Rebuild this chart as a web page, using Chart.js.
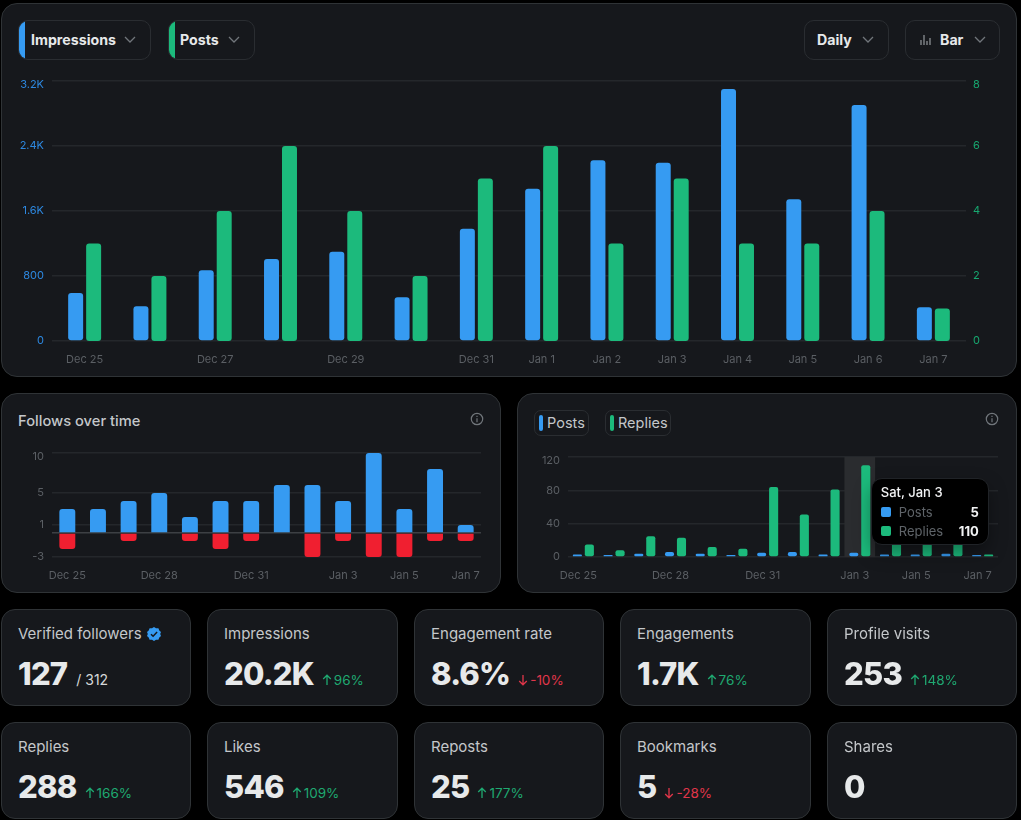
<!DOCTYPE html>
<html lang="en">
<head>
    <meta charset="UTF-8">
    <title>Account analytics</title>
    <script src="https://cdn.jsdelivr.net/npm/chart.js"></script>
    <style>
        html, body {
            margin: 0;
            width: 1021px;
            height: 820px;
            overflow: hidden;
            background: #000;
            font-family: Inter, "Noto Sans", sans-serif;
            color: #e7e9ea;
        }
        .card {
            position: absolute;
            box-sizing: border-box;
            background: #16181c;
            border: 1px solid #2f3336;
            border-radius: 16px;
        }
        canvas { position: absolute; }
        .pill {
            position: absolute;
            box-sizing: border-box;
            top: 20px;
            height: 40px;
            border: 1px solid #2a2d31;
            border-radius: 10px;
            overflow: hidden;
            font-size: 14.2px;
            font-weight: 700;
            line-height: 38px;
            white-space: nowrap;
        }
        .pill .stripe { position: absolute; left: 0; top: 0; bottom: 0; width: 6px; }
        .pill span { position: absolute; top: 0; }
        .pill svg { position: absolute; top: 14px; }
        .legend {
            position: absolute;
            box-sizing: border-box;
            top: 410px;
            height: 26px;
            border: 1px solid #2a2d31;
            border-radius: 7px;
            font-size: 14.5px;
            line-height: 24px;
            color: #c4c7ca;
        }
        .legend i { position: absolute; left: 4px; top: 4px; width: 4px; height: 16px; border-radius: 2px; }
        .legend span { position: absolute; left: 12px; }
        .title { position: absolute; left: 18px; top: 412px; font-size: 14.7px; font-weight: 500; color: #c4c7ca; }
        .info { position: absolute; top: 412px; }
        #kpis {
            position: absolute;
            left: 1px;
            top: 609px;
            display: grid;
            grid-template-columns: 190px 191px 190px 191px 190px;
            grid-auto-rows: 97px;
            gap: 16px;
        }
        .kpi {
            position: relative;
            box-sizing: border-box;
            background: #16181c;
            border: 1px solid #2f3336;
            border-radius: 14px;
        }
        .kpi .name { position: absolute; left: 16px; top: 14px; font-size: 15px; color: #c4c7ca; white-space: nowrap; }
        .kpi .row { position: absolute; left: 16px; top: 44px; white-space: nowrap; display: flex; align-items: baseline; }
        .kpi .value { font-size: 31px; font-weight: 800; letter-spacing: -0.8px; line-height: 40px; color: #e7e9ea; }
        .kpi .delta { font-size: 13.5px; margin-left: 8px; }
        .kpi .up { color: #1fa971; }
        .kpi .down { color: #e0364a; }
        .kpi .total { font-size: 14px; margin-left: 9px; color: #d6d8da; }
        .badge { vertical-align: -2px; margin-left: 5px; }
        #tip {
            position: absolute;
            box-sizing: border-box;
            top: 478px;
            width: 118px;
            height: 67px;
            background: #000;
            border: 1px solid #202327;
            border-radius: 11px;
            box-shadow: 0 8px 18px rgba(0, 0, 0, .35);
            font-size: 13px;
            color: #5f6469;
        }
        #tip .head { position: absolute; left: 9px; top: 5px; color: #f2f3f4; font-weight: 500; }
        #tip .line { position: absolute; left: 9px; right: 9px; height: 18px; line-height: 18px; }
        #tip .line i { position: absolute; left: 0; top: 4px; width: 10px; height: 10px; border-radius: 2px; }
        #tip .line span { position: absolute; left: 18px; }
        #tip .line b { position: absolute; right: 0; color: #f2f3f4; font-weight: 700; }
    </style>
</head>
<body>
    <div class="card" style="left:1px;top:3px;width:1016px;height:374px"></div>
    <div class="card" style="left:1px;top:393px;width:500px;height:200px"></div>
    <div class="card" style="left:517px;top:393px;width:500px;height:200px"></div>

    <canvas id="mainChart" width="1016" height="305" style="left:1px;top:70px"></canvas>
    <canvas id="followsChart" width="500" height="150" style="left:1px;top:440px"></canvas>
    <canvas id="repliesChart" width="500" height="150" style="left:517px;top:440px"></canvas>

    <div class="pill" style="left:18px;width:133px"><div class="stripe" style="background:#369bf2"></div><span style="left:12px">Impressions</span>
        <svg style="left:105px" width="12" height="10" viewBox="0 0 12 10"><polyline points="1,2 6,7 11,2" fill="none" stroke="#71767b" stroke-width="1.3"/></svg></div>
    <div class="pill" style="left:168px;width:87px"><div class="stripe" style="background:#1cba7c"></div><span style="left:11px">Posts</span>
        <svg style="left:59px" width="12" height="10" viewBox="0 0 12 10"><polyline points="1,2 6,7 11,2" fill="none" stroke="#71767b" stroke-width="1.3"/></svg></div>
    <div class="pill" style="left:804px;width:85px"><span style="left:12px">Daily</span>
        <svg style="left:57px" width="12" height="10" viewBox="0 0 12 10"><polyline points="1,2 6,7 11,2" fill="none" stroke="#71767b" stroke-width="1.3"/></svg></div>
    <div class="pill" style="left:905px;width:95px"><span style="left:34px">Bar</span>
        <svg style="left:14px;top:13px" width="11" height="12" viewBox="0 0 11 12"><path d="M1 6v5M4 1v10M7 7v4M10 4v7" stroke="#8b8f94" stroke-width="1.3"/></svg>
        <svg style="left:68px" width="12" height="10" viewBox="0 0 12 10"><polyline points="1,2 6,7 11,2" fill="none" stroke="#71767b" stroke-width="1.3"/></svg></div>

    <div class="title">Follows over time</div>
    <svg class="info" style="left:470px" width="14" height="14" viewBox="0 0 14 14"><circle cx="7" cy="7" r="5.7" fill="none" stroke="#71767b" stroke-width="1.2"/><path d="M7 6.2v4M7 3.8v1.2" stroke="#71767b" stroke-width="1.2"/></svg>
    <svg class="info" style="left:985px" width="14" height="14" viewBox="0 0 14 14"><circle cx="7" cy="7" r="5.7" fill="none" stroke="#71767b" stroke-width="1.2"/><path d="M7 6.2v4M7 3.8v1.2" stroke="#71767b" stroke-width="1.2"/></svg>
    <div class="legend" style="left:534px;width:55px"><i style="background:#369bf2"></i><span>Posts</span></div>
    <div class="legend" style="left:605px;width:66px"><i style="background:#1cba7c"></i><span>Replies</span></div>

    <div id="tip"></div>
    <div id="kpis"></div>

    <script>
        const days = ['Dec 25', 'Dec 26', 'Dec 27', 'Dec 28', 'Dec 29', 'Dec 30', 'Dec 31', 'Jan 1', 'Jan 2', 'Jan 3', 'Jan 4', 'Jan 5', 'Jan 6', 'Jan 7'];
        const mainDayTicks = ['Dec 25', 'Dec 27', 'Dec 29', 'Dec 31', 'Jan 1', 'Jan 2', 'Jan 3', 'Jan 4', 'Jan 5', 'Jan 6', 'Jan 7'];
        const smallDayTicks = ['Dec 25', 'Dec 28', 'Dec 31', 'Jan 3', 'Jan 5', 'Jan 7'];

        const impressions = [590, 427, 870, 1009, 1100, 538, 1382, 1875, 2224, 2195, 3102, 1744, 2905, 415];
        const posts = [3, 2, 4, 6, 4, 2, 5, 6, 3, 5, 3, 3, 4, 1];
        const followsGained = [3, 3, 4, 5, 2, 4, 4, 6, 6, 4, 10, 3, 8, 1];
        const followsLost = [-2, 0, -1, 0, -1, -2, -1, 0, -3, -1, -3, -3, -1, -1];
        // Jan 4-6 tops are hidden behind the tooltip, these three are guesses
        const replies = [15, 8, 25, 23, 12, 10, 84, 51, 81, 110, 22, 26, 20, 3];
        const followTicks = [-3, 0, 1, 5, 10];
        const tooltipDay = 'Jan 3';
        const tooltipTitle = 'Sat, Jan 3';

        const kpiNames = ['Verified followers', 'Impressions', 'Engagement rate', 'Engagements', 'Profile visits', 'Replies', 'Likes', 'Reposts', 'Bookmarks', 'Shares'];
        const kpiValues = ['127', '20.2K', '8.6%', '1.7K', '253', '288', '546', '25', '5', '0'];
        const kpiDeltas = ['', '96%', '-10%', '76%', '148%', '166%', '109%', '177%', '-28%', ''];

        const BLUE = '#369bf2', GREEN = '#1cba7c', RED = '#f01f30', GRID = '#24272b';
        const TICK_FONT = { family: 'Inter, "Noto Sans", sans-serif', size: 11, lineHeight: '6.6px' };
        const X_COLOR = '#5b5f64';

        // top label sits a bit under its gridline, the empty first line pushes it down
        const pushDown = (label, value, max) => value === max ? ['', label] : label;
        const fixedHeight = size => axis => { axis.height = size; };
        // drop the room chart.js keeps for tick labels so layout.padding is the exact plot offset
        const fixedWidth = size => axis => { axis.width = size; axis.paddingTop = 0; axis.paddingBottom = 0; };

        function xAxis(shown, labelOffset = 0) {
            return {
                grid: { display: false },
                border: { display: false },
                afterFit: fixedHeight(33),
                ticks: {
                    autoRotate: false, maxRotation: 0, autoSkip: false, padding: 7, labelOffset,
                    color: X_COLOR, font: TICK_FONT,
                    callback(value) { return shown.includes(days[value]) ? days[value] : ''; }
                }
            };
        }

        const baseOptions = {
            responsive: false,
            animation: false,
            events: [],
            plugins: { legend: { display: false }, tooltip: { enabled: false } }
        };

        new Chart(document.getElementById('mainChart'), {
            type: 'bar',
            data: {
                labels: days,
                datasets: [
                    { data: impressions, yAxisID: 'y', backgroundColor: BLUE, borderRadius: 3, borderSkipped: false, categoryPercentage: 0.551, barPercentage: 0.833 },
                    { data: posts, yAxisID: 'y2', backgroundColor: GREEN, borderRadius: 3, borderSkipped: false, categoryPercentage: 0.551, barPercentage: 0.833 }
                ]
            },
            options: {
                ...baseOptions,
                layout: { padding: { top: 11 } },
                scales: {
                    x: { ...xAxis(mainDayTicks), afterFit: fixedHeight(34) },
                    y: {
                        min: 0, max: 3200,
                        border: { display: false },
                        grid: { color: GRID, drawTicks: false, lineWidth: 1.5 },
                        afterFit: fixedWidth(51),
                        ticks: {
                            stepSize: 800, padding: 8, color: '#2d88e0', font: TICK_FONT,
                            callback(v) { return pushDown(v >= 1000 ? (v / 1000).toFixed(1) + 'K' : String(v), v, 3200); }
                        }
                    },
                    y2: {
                        position: 'right', min: 0, max: 8,
                        border: { display: false },
                        grid: { display: false, drawTicks: false },
                        afterFit: fixedWidth(51),
                        ticks: {
                            stepSize: 2, padding: 7, color: '#17a870', font: TICK_FONT,
                            callback(v) { return pushDown(String(v), v, 8); }
                        }
                    }
                }
            }
        });

        new Chart(document.getElementById('followsChart'), {
            type: 'bar',
            data: {
                labels: days,
                datasets: [
                    { data: followsGained, backgroundColor: BLUE, borderRadius: { topLeft: 3, topRight: 3 }, borderSkipped: false, categoryPercentage: 0.52, barPercentage: 1 },
                    { data: followsLost, backgroundColor: RED, borderRadius: { bottomLeft: 3, bottomRight: 3 }, borderSkipped: false, categoryPercentage: 0.52, barPercentage: 1 }
                ]
            },
            options: {
                ...baseOptions,
                layout: { padding: { top: 13, right: 20 } },
                scales: {
                    x: { ...xAxis(smallDayTicks), stacked: true },
                    y: {
                        stacked: true, min: -3, max: 10,
                        border: { display: false },
                        grid: {
                            drawTicks: false,
                            lineWidth: 1.5,
                            color: ctx => ctx.tick.value === 0 ? '#3d4044' : GRID
                        },
                        afterFit: fixedWidth(51),
                        afterBuildTicks(axis) { axis.ticks = followTicks.map(value => ({ value })); },
                        ticks: {
                            padding: 8, color: X_COLOR, font: TICK_FONT,
                            callback(v) { return v === 0 ? '' : pushDown(String(v), v, 10); }
                        }
                    }
                }
            }
        });

        function drawTip(context) {
            const { chart, tooltip } = context;
            const tip = document.getElementById('tip');
            const rows = tooltip.dataPoints.map((p, i) =>
                `<div class="line" style="top:${24 + i * 19}px"><i style="background:${p.dataset.backgroundColor}"></i><span>${p.dataset.label}</span><b>${p.raw}</b></div>`
            ).join('');
            tip.innerHTML = `<div class="head">${tooltipTitle}</div>${rows}`;
            const x = chart.scales.x.getPixelForValue(days.indexOf(tooltipDay));
            tip.style.left = (chart.canvas.offsetLeft + x + 11) + 'px';
        }

        // grey column behind the hovered day
        const hoverBand = {
            id: 'hoverBand',
            beforeDatasetsDraw(chart) {
                const { ctx, chartArea, scales } = chart;
                const i = days.indexOf(tooltipDay);
                const half = (scales.x.getPixelForValue(1) - scales.x.getPixelForValue(0)) / 2;
                ctx.save();
                ctx.fillStyle = '#2a2c2f';
                ctx.fillRect(scales.x.getPixelForValue(i) - half, chartArea.top, half * 2, chartArea.bottom - chartArea.top);
                ctx.restore();
            }
        };

        const repliesChart = new Chart(document.getElementById('repliesChart'), {
            type: 'bar',
            plugins: [hoverBand],
            data: {
                labels: days,
                datasets: [
                    { label: 'Posts', data: posts, backgroundColor: BLUE, borderRadius: 2, borderSkipped: false, minBarLength: 2, categoryPercentage: 0.78, barPercentage: 0.76 },
                    { label: 'Replies', data: replies, backgroundColor: GREEN, borderRadius: 2, borderSkipped: false, categoryPercentage: 0.78, barPercentage: 0.76 }
                ]
            },
            options: {
                ...baseOptions,
                plugins: {
                    legend: { display: false },
                    tooltip: { enabled: false, mode: 'index', external: drawTip }
                },
                layout: { padding: { top: 17, right: 19 } },
                scales: {
                    x: xAxis(smallDayTicks, -5),
                    y: {
                        min: 0, max: 120,
                        border: { display: false },
                        grid: { color: GRID, drawTicks: false, lineWidth: 1.5 },
                        afterFit: fixedWidth(51),
                        ticks: {
                            stepSize: 40, padding: 8, color: X_COLOR, font: TICK_FONT,
                            callback(v) { return pushDown(String(v), v, 120); }
                        }
                    }
                }
            }
        });
        const tipIndex = days.indexOf(tooltipDay);
        repliesChart.tooltip.setActiveElements([{ datasetIndex: 0, index: tipIndex }, { datasetIndex: 1, index: tipIndex }], { x: 0, y: 0 });

        const arrow = (up, color) => `<svg width="10" height="12" viewBox="0 0 10 12" style="margin-right:2px;vertical-align:-1px"><path d="${up ? 'M5 11V1.5M1.2 5L5 1.2L8.8 5' : 'M5 1v9.5M1.2 7L5 10.8L8.8 7'}" fill="none" stroke="${color}" stroke-width="1.3"/></svg>`;
        const badge = '<svg class="badge" width="14" height="14" viewBox="0 0 14 14"><path d="M7 0l2 1.3 2.4-.1.9 2.2 1.7 1.7-.8 1.9.8 2-1.7 1.6-.9 2.2-2.4-.1L7 14l-2-1.3-2.4.1-.9-2.2L0 9l.8-2L0 5.1l1.7-1.7.9-2.2 2.4.1z" fill="#369bf2"/><path d="M4 7.2l2.1 2.1 4-4.2" fill="none" stroke="#16181c" stroke-width="1.5"/></svg>';

        document.getElementById('kpis').innerHTML = kpiNames.map((name, i) => {
            const d = kpiDeltas[i];
            const down = d.startsWith('-');
            const extra = i === 0 ? '<span class="total">/ 312</span>'
                : d ? `<span class="delta ${down ? 'down' : 'up'}">${arrow(!down, down ? '#e0364a' : '#1fa971')}${d}</span>` : '';
            return `<div class="kpi"><div class="name">${name}${i === 0 ? badge : ''}</div><div class="row"><span class="value">${kpiValues[i]}</span>${extra}</div></div>`;
        }).join('');
    </script>
</body>
</html>
